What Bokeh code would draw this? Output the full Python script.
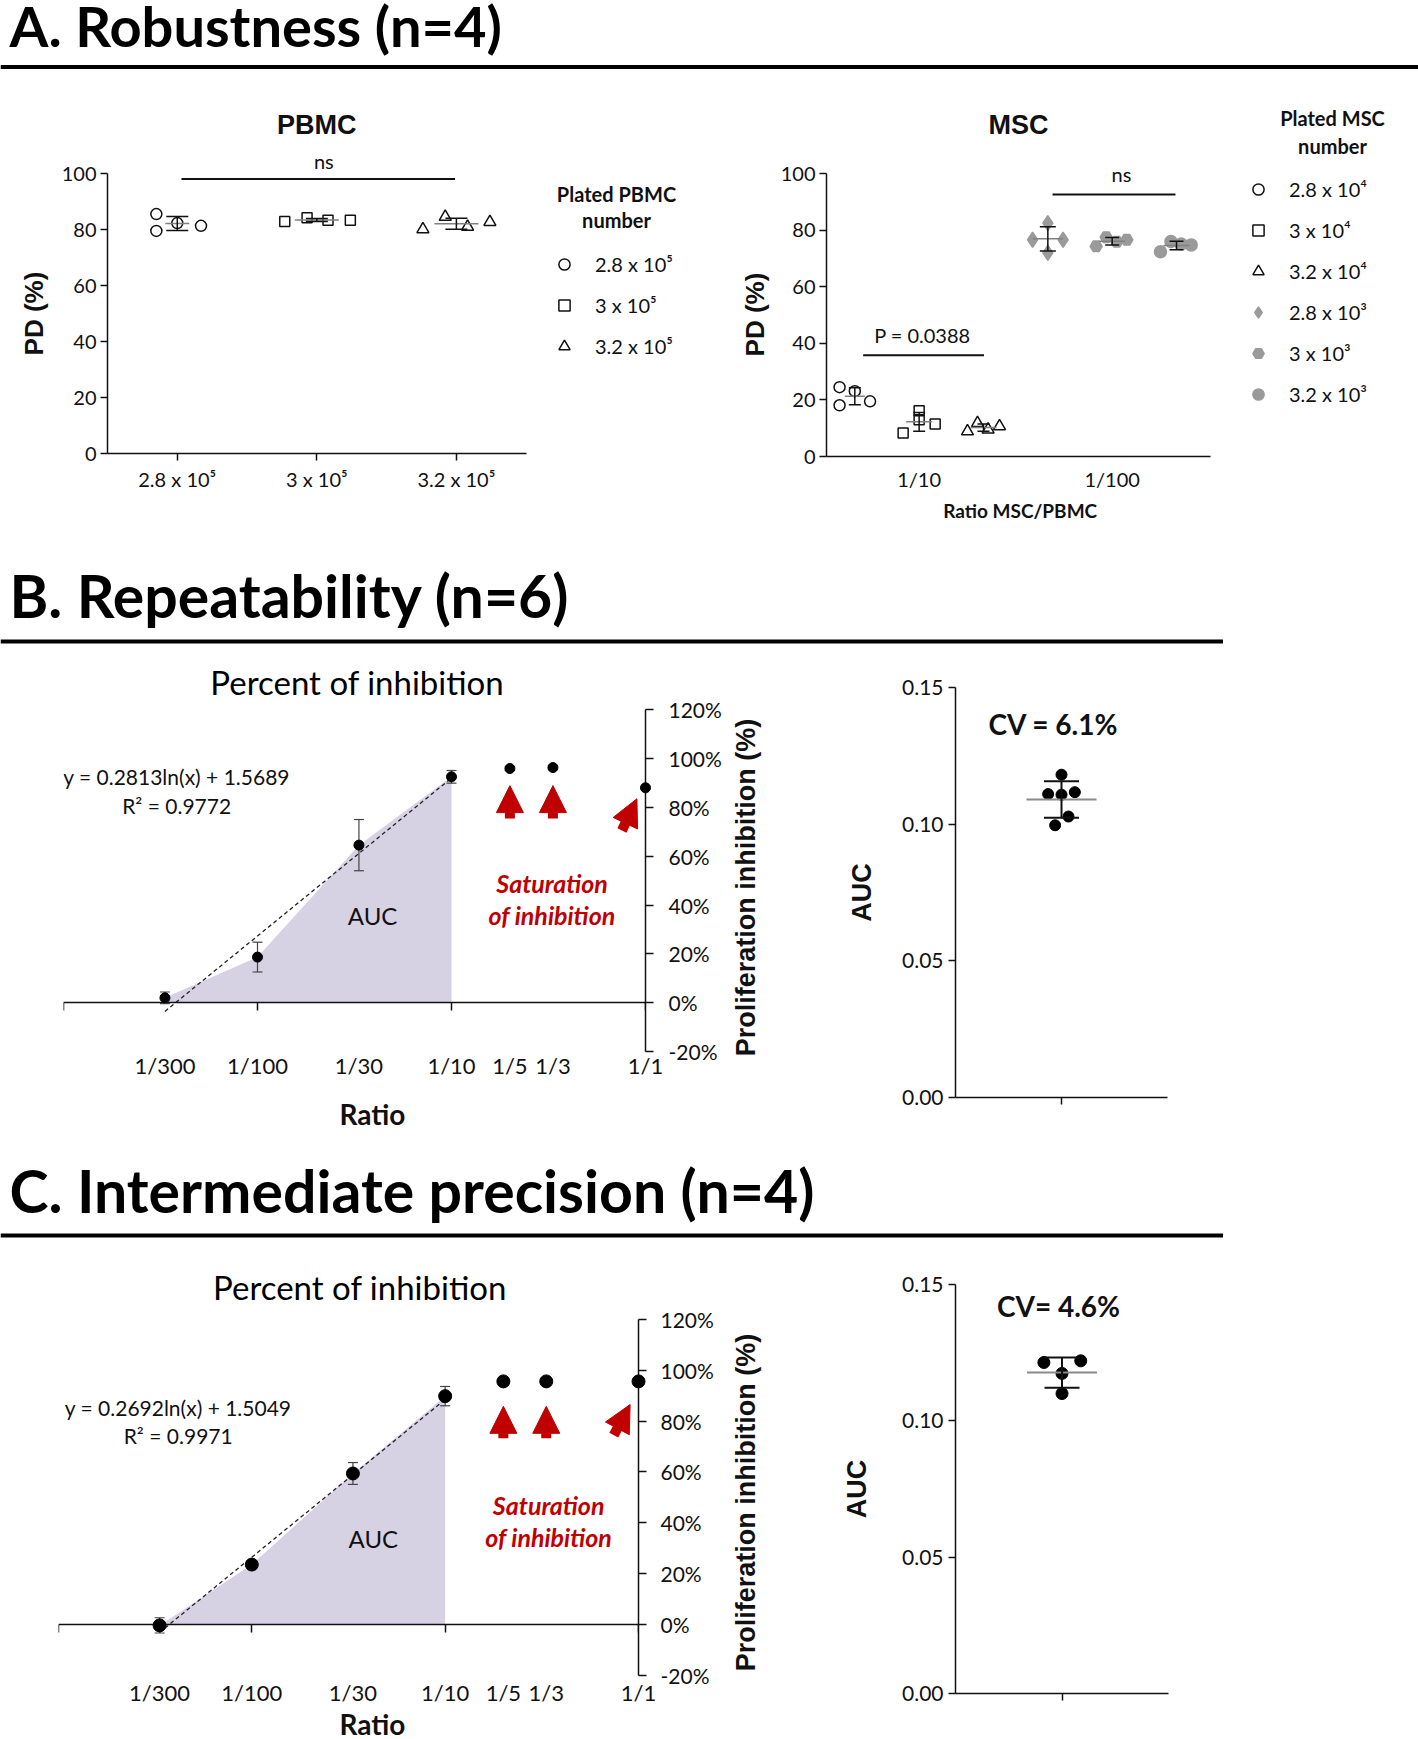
import numpy as np
from bokeh.plotting import figure
from bokeh.layouts import column, row
from bokeh.models import (ColumnDataSource, Whisker, TeeHead, Label, Span, Legend, LegendItem,
                          FixedTicker, LogAxis, PrintfTickFormatter, NumeralTickFormatter,
                          Arrow, NormalHead, Range1d)
from bokeh.embed import file_html
from bokeh.resources import INLINE

# ======================= DATA =======================
# A. Robustness - PBMC (PD %, plated PBMC number)
pbmc_groups = ["2.8 x 10\u2075", "3 x 10\u2075", "3.2 x 10\u2075"]
pbmc_28e5 = [85.5, 79.5, 82.3, 81.3]
pbmc_30e5 = [82.9, 84.2, 83.3, 83.3]
pbmc_32e5 = [80.1, 84.5, 81.0, 82.7]
pbmc_jit_28e5 = [-0.15, -0.15, 0.0, 0.17]
pbmc_jit_30e5 = [-0.23, -0.07, 0.08, 0.24]
pbmc_jit_32e5 = [-0.24, -0.08, 0.08, 0.24]
pbmc_ns_bar = (0.03, 1.99, 98.0)

# A. Robustness - MSC (PD %, ratio MSC/PBMC)
msc_ratios = ["1/10", "1/100"]
msc_legend = ["2.8 x 10\u2074", "3 x 10\u2074", "3.2 x 10\u2074",
              "2.8 x 10\u00b3", "3 x 10\u00b3", "3.2 x 10\u00b3"]
msc_28e4 = [24.5, 18.1, 23.1, 19.5]
msc_30e4 = [8.3, 16.2, 13.0, 11.5]
msc_32e4 = [8.9, 11.8, 9.5, 10.7]
msc_28e3 = [76.6, 82.5, 72.0, 76.6]
msc_30e3 = [74.3, 77.5, 75.9, 76.6]
msc_32e3 = [72.4, 76.0, 75.1, 74.8]
msc_jit_28e4 = [-0.079, -0.079, 0.0, 0.079]
msc_jit_30e4 = [-0.083, 0.0, 0.0, 0.083]
msc_jit_32e4 = [-0.083, -0.031, 0.024, 0.083]
msc_jit_28e3 = [-0.079, 0.0, 0.0, 0.079]
msc_jit_30e3 = [-0.083, -0.031, 0.024, 0.076]
msc_jit_32e3 = [-0.083, -0.029, 0.024, 0.076]
msc_p_bar = (0.71, 1.336, 35.8)
msc_ns_bar = (1.691, 2.328, 92.6)

# B / C shared ratio axis
ratio_labels = ["1/300", "1/100", "1/30", "1/10", "1/5", "1/3", "1/1"]
ratio_values = [1 / 300, 1 / 100, 1 / 30, 1 / 10, 1 / 5, 1 / 3, 1.0]

# B. Repeatability (n=6)
rep_mean = [2.0, 18.7, 64.6, 92.6, 96.0, 96.4, 88.1]
rep_sd = [2.4, 6.1, 10.5, 2.6, 0.8, 0.8, 0.0]
rep_fit = (0.2813, 1.5689)
rep_r2 = 0.9772
rep_auc = [0.1181, 0.1110, 0.1108, 0.1117, 0.1028, 0.0996]
rep_auc_jit = [0.0, -0.063, 0.0, 0.063, 0.033, -0.030]
rep_cv = "CV = 6.1%"
rep_arrows = [(0.2, 75.5, 0.2, 89.0), (1 / 3, 75.5, 1 / 3, 89.0), (0.756, 70.6, 0.903, 83.6)]

# C. Intermediate precision (n=4)
ip_mean = [-0.3, 23.6, 59.4, 89.8, 95.6, 95.6, 95.6]
ip_sd = [3.0, 0.5, 4.3, 3.8, 0.0, 0.0, 0.0]
ip_fit = (0.2692, 1.5049)
ip_r2 = 0.9971
ip_auc = [0.1214, 0.1220, 0.1174, 0.1100]
ip_auc_jit = [-0.085, 0.088, 0.0, 0.0]
ip_cv = "CV= 4.6%"
ip_arrows = [(0.2, 73.2, 0.2, 85.8), (1 / 3, 73.2, 1 / 3, 85.8), (0.745, 74.5, 0.905, 86.5)]

# ======================= STYLE =======================
FONT = "Lato"
BOLD = "Liberation Sans"
INK = "#111111"
RED = "#c00000"
GREY = "#9a9a9a"

LEG_ROW, LEG_GAP = 28, 13


def base_fig(width, height, left, right, top, bottom, x_range, y_range, **kw):
    p = figure(width=width, height=height, x_range=x_range, y_range=y_range,
               output_backend="svg", toolbar_location=None,
               min_border_left=left, min_border_right=right,
               min_border_top=top, min_border_bottom=bottom, **kw)
    p.outline_line_color = None
    p.grid.visible = False
    return p


def block(width, height):
    """Plain text area (no axes)."""
    p = figure(width=width, height=height, x_range=Range1d(0, width), y_range=Range1d(0, height),
               output_backend="svg", toolbar_location=None, x_axis_location=None,
               y_axis_location=None, min_border=0, min_border_left=0, min_border_right=0,
               min_border_top=0, min_border_bottom=0)
    p.outline_line_color = None
    p.grid.visible = False
    return p


def style_axis(ax, font_size="20px", tick_out=7, standoff=5):
    ax.axis_line_color = INK
    ax.axis_line_width = 1.5
    ax.major_tick_line_color = INK
    ax.major_tick_line_width = 1.5
    ax.major_tick_out = tick_out
    ax.major_tick_in = 0
    ax.minor_tick_out = 0
    ax.minor_tick_in = 0
    ax.major_label_text_font = FONT
    ax.major_label_text_font_size = font_size
    ax.major_label_text_color = INK
    ax.major_label_standoff = standoff


def label(p, text, x, y, size, font=FONT, style="normal", color=INK, align="center",
          angle=0, xu="screen", yu="screen"):
    p.add_layout(Label(x=x, y=y, x_units=xu, y_units=yu, text=text, text_font=font,
                       text_font_size=size, text_font_style=style, text_color=color,
                       text_align=align, text_baseline="middle", angle=angle,
                       angle_units="deg"))


def whisker(p, base, lower, upper, cap, color, lw):
    src = ColumnDataSource(dict(base=base, lower=lower, upper=upper))
    p.add_layout(Whisker(source=src, base="base", lower="lower", upper="upper",
                         dimension="height", line_color=color, line_width=lw, level="annotation",
                         upper_head=TeeHead(size=cap, line_color=color, line_width=lw),
                         lower_head=TeeHead(size=cap, line_color=color, line_width=lw)))


def dot_group(p, xc, vals, jit, marker, size, fill, line, mean_w, cap_w):
    xs = [xc + j for j in jit]
    r = p.scatter(xs, vals, marker=marker, size=size, fill_color=fill,
                  line_color=line, line_width=1.5)
    m = float(np.mean(vals))
    s = float(np.std(vals, ddof=1))
    p.scatter([xc], [m], marker="dash", size=mean_w, line_color="#808080", line_width=1.5)
    whisker(p, [xc], [m - s], [m + s], cap_w, INK, 1.5)
    return r


def add_legend(p, items, vx, top_y):
    """top_y: distance of the legend's top edge above the frame bottom."""
    n = len(items)
    h = n * LEG_ROW + (n - 1) * LEG_GAP
    leg = Legend(items=items, location=(vx, top_y - h), orientation="vertical",
                 glyph_width=LEG_ROW, glyph_height=LEG_ROW, label_height=LEG_ROW,
                 label_standoff=17, spacing=LEG_GAP, padding=0, margin=0,
                 border_line_color=None, background_fill_alpha=0, label_text_font=FONT,
                 label_text_font_size="20px", label_text_color=INK)
    p.add_layout(leg)


def header(text, width, height, center_y, line_y, size):
    p = block(width, height)
    label(p, text, 9, center_y, size, style="bold", color="#000", align="left")
    p.add_layout(Span(location=line_y, dimension="width", line_color="#000", line_width=4))
    return p


# ======================= A. PBMC =======================
pbmc = base_fig(672, 471, 47, 0, 21, 92, Range1d(-0.5, 3.964), Range1d(0, 127.86))
style_axis(pbmc.xaxis[0], tick_out=7, standoff=6)
pbmc.xaxis[0].ticker = FixedTicker(ticks=[0, 1, 2])
pbmc.xaxis[0].major_label_overrides = {i: g for i, g in enumerate(pbmc_groups)}
pbmc.xaxis[0].bounds = (-0.5, 2.5)
style_axis(pbmc.yaxis[0], tick_out=7, standoff=4)
pbmc.yaxis[0].ticker = FixedTicker(ticks=[0, 20, 40, 60, 80, 100])
pbmc.yaxis[0].bounds = (0, 100)

r1 = dot_group(pbmc, 0, pbmc_28e5, pbmc_jit_28e5, "circle", 11, None, INK, 24, 22)
r2 = dot_group(pbmc, 1, pbmc_30e5, pbmc_jit_30e5, "square", 10, None, INK, 44, 22)
r3 = dot_group(pbmc, 2, pbmc_32e5, pbmc_jit_32e5, "triangle", 12, None, INK, 44, 22)
pbmc.line([pbmc_ns_bar[0], pbmc_ns_bar[1]], [pbmc_ns_bar[2]] * 2, line_color=INK, line_width=2)
label(pbmc, "ns", 1.05, 104.4, "20px", xu="data", yu="data")
label(pbmc, "PBMC", 1.0, 117.5, "27px", font=BOLD, style="bold", xu="data", yu="data")
label(pbmc, "Plated PBMC", 509, 260, "20px", style="bold")
label(pbmc, "number", 509, 233.5, "20px", style="bold")
add_legend(pbmc, [LegendItem(label=pbmc_groups[0], renderers=[r1]),
                  LegendItem(label=pbmc_groups[1], renderers=[r2]),
                  LegendItem(label=pbmc_groups[2], renderers=[r3])], 443, 203)

# y titles (blocks share the row's frame top/bottom: 95..453)
pd_a = block(58, 471)
label(pd_a, "PD (%)", 33, 140, "26px", font=BOLD, style="bold", angle=90)
pd_b = block(44, 471)
label(pd_b, "PD (%)", 24, 139, "26px", font=BOLD, style="bold", angle=90)

# ======================= A. MSC =======================
msc = base_fig(644, 423, 52, 0, 21, 41, Range1d(0.52, 3.587), Range1d(0, 127.6))
style_axis(msc.xaxis[0], tick_out=0, standoff=10)
msc.xaxis[0].ticker = FixedTicker(ticks=[1, 2])
msc.xaxis[0].major_label_overrides = {1: msc_ratios[0], 2: msc_ratios[1]}
msc.xaxis[0].bounds = (0.52, 2.51)
style_axis(msc.yaxis[0], tick_out=7, standoff=4)
msc.yaxis[0].ticker = FixedTicker(ticks=[0, 20, 40, 60, 80, 100])
msc.yaxis[0].bounds = (0, 100)

g = 1 / 3
m1 = dot_group(msc, 1 - g, msc_28e4, msc_jit_28e4, "circle", 11, None, INK, 20, 12)
m2 = dot_group(msc, 1, msc_30e4, msc_jit_30e4, "square", 10, None, INK, 26, 12)
m3 = dot_group(msc, 1 + g, msc_32e4, msc_jit_32e4, "triangle", 12, None, INK, 26, 12)
m4 = dot_group(msc, 2 - g, msc_28e3, msc_jit_28e3, "diamond", 15, GREY, GREY, 30, 16)
m5 = dot_group(msc, 2, msc_30e3, msc_jit_30e3, "hex", 12, GREY, GREY, 26, 14)
m6 = dot_group(msc, 2 + g, msc_32e3, msc_jit_32e3, "circle", 12, GREY, GREY, 26, 14)
msc.line([msc_p_bar[0], msc_p_bar[1]], [msc_p_bar[2]] * 2, line_color=INK, line_width=2)
msc.line([msc_ns_bar[0], msc_ns_bar[1]], [msc_ns_bar[2]] * 2, line_color=INK, line_width=2)
label(msc, "P = 0.0388", 1.017, 42.8, "20px", xu="data", yu="data")
label(msc, "ns", 2.048, 100.0, "20px", xu="data", yu="data")
label(msc, "MSC", 1.515, 117.3, "27px", font=BOLD, style="bold", xu="data", yu="data")
label(msc, "Plated MSC", 506, 338.5, "20px", style="bold")
label(msc, "number", 506, 311, "20px", style="bold")
add_legend(msc, [LegendItem(label=t, renderers=[r]) for t, r in
                 zip(msc_legend, [m1, m2, m3, m4, m5, m6])], 418, 281.5)

# x title block (shares msc's left border of 52 inside the column)
msc_xlab = block(644, 48)
label(msc_xlab, "Ratio  MSC/PBMC", 196, 35, "19px", style="bold")


# ======================= B / C inhibition panels =======================
def inhibition(width, height, left, right, top, bottom, y_top, means, sds, fit, r2, arrows,
               pt_size, txt):
    p = base_fig(width, height, left, right, top, bottom, Range1d(0.001, 1.0),
                 Range1d(-20, y_top), x_axis_type="log", y_axis_location="right")
    ya = p.yaxis[0]
    style_axis(ya, font_size="21px", tick_out=8, standoff=txt["ystd"])
    ya.ticker = FixedTicker(ticks=[-20, 0, 20, 40, 60, 80, 100, 120])
    ya.formatter = PrintfTickFormatter(format="%d%%")
    ya.bounds = (-20, 120)
    xa = p.xaxis[0]
    style_axis(xa, font_size="22px", tick_out=0, standoff=txt["xstd"])
    xa.axis_line_color = None
    xa.major_tick_line_color = None
    xa.ticker = FixedTicker(ticks=ratio_values)
    xa.major_label_overrides = {v: l for v, l in zip(ratio_values, ratio_labels)}
    zero = LogAxis(fixed_location=0, ticker=FixedTicker(ticks=[0.001, 0.01, 0.1, 1.0]))
    style_axis(zero, font_size="1px", tick_out=0, standoff=0)
    zero.major_tick_in = 8
    zero.major_label_text_color = None
    zero.major_label_overrides = {t: "" for t in [0.001, 0.01, 0.1, 1.0]}
    p.add_layout(zero, "above")

    # AUC area under the measured curve (1/300 .. 1/10)
    n = 4
    p.varea(x=ratio_values[:n], y1=[0] * n, y2=means[:n], fill_color="#9c8fb8", fill_alpha=0.4)
    # logarithmic fit shown on the chart
    a, b = fit
    fx = [ratio_values[0], ratio_values[3]]
    p.line(fx, [100 * (a * np.log(x) + b) for x in fx], line_color="#222", line_width=1.3,
           line_dash="4 3")
    whisker(p, ratio_values, [m - s for m, s in zip(means, sds)],
            [m + s for m, s in zip(means, sds)], 10, "#444", 1.2)
    p.scatter(ratio_values, means, size=pt_size, color="#000", level="overlay")
    for (x0, y0, x1, y1) in arrows:
        p.add_layout(Arrow(end=NormalHead(size=27, fill_color=RED, line_color=RED, line_width=1),
                           x_start=x0, y_start=y0, x_end=x1, y_end=y1,
                           line_color=RED, line_width=10))
    label(p, "y = %.4fln(x) + %.4f" % (a, b), txt["eq"][0], txt["eq"][1], "21px",
          xu="data", yu="data")
    label(p, "R\u00b2 = %.4f" % r2, txt["eq"][0], txt["r2"], "21px", xu="data", yu="data")
    label(p, "AUC", txt["auc"][0], txt["auc"][1], "24px", xu="data", yu="data")
    label(p, "Saturation", txt["sat"][0], txt["sat"][1], "25px", style="bold italic", color=RED,
          xu="data", yu="data")
    label(p, "of inhibition", txt["sat"][0], txt["sat"][2], "25px", style="bold italic",
          color=RED, xu="data", yu="data")
    label(p, "Percent of inhibition", txt["title"][0], txt["title"][1], "33px", color="#000")
    return p


def auc_panel(width, height, left, right, top, bottom, vals, jit, cv, pt_size, cv_pos, lab_std):
    p = base_fig(width, height, left, right, top, bottom, Range1d(0, 1), Range1d(0, 0.15))
    ya = p.yaxis[0]
    style_axis(ya, font_size="21px", tick_out=7, standoff=5)
    ya.ticker = FixedTicker(ticks=[0, 0.05, 0.10, 0.15])
    ya.formatter = NumeralTickFormatter(format="0.00")
    ya.axis_label = "AUC"
    ya.axis_label_text_font = BOLD
    ya.axis_label_text_font_style = "bold"
    ya.axis_label_text_font_size = "27px"
    ya.axis_label_text_color = INK
    ya.axis_label_standoff = lab_std
    style_axis(p.xaxis[0], tick_out=7, standoff=2)
    p.xaxis[0].ticker = FixedTicker(ticks=[0.5])
    p.xaxis[0].major_label_overrides = {0.5: ""}
    m = float(np.mean(vals))
    s = float(np.std(vals, ddof=1))
    p.scatter([0.5 + j for j in jit], vals, size=pt_size, color="#000")
    p.scatter([0.5], [m], marker="dash", size=70, line_color="#8a8a8a", line_width=2)
    whisker(p, [0.5], [m - s], [m + s], 35, INK, 2)
    label(p, cv, cv_pos[0], cv_pos[1], "28px", style="bold")
    return p


rep_txt = dict(eq=(0.00383, 92.8), r2=80.9, auc=(0.0392, 35.9), sat=(0.330, 49.1, 35.9),
               title=(293.8, 370.0), xstd=0, ystd=15)
ip_txt = dict(eq=(0.00416, 85.4), r2=74.5, auc=(0.0425, 34.0), sat=(0.343, 47.0, 34.4),
              title=(301.5, 389.0), xstd=3, ystd=14)

# row B
rep = inhibition(725, 446, 63, 80, 4, 40, 144.8, rep_mean, rep_sd, rep_fit, rep_r2, rep_arrows,
                 10, rep_txt)
rep_xlab = block(725, 44)          # shares rep's left border (63) inside the column
label(rep_xlab, "Ratio", 309, 22, "28px", style="bold")
rep_ylab = block(45, 490)          # shares the AUC frame (687..1097) inside the row
label(rep_ylab, "Proliferation inhibition (%)", 20, 210, "27px", font=BOLD, style="bold",
      angle=90)
rep_auc_p = auc_panel(460, 490, 185, 63, 42, 38, rep_auc, rep_auc_jit, rep_cv, 11,
                      (98, 374), 22)

# row C
ip = inhibition(725, 468, 58, 87, 4, 31, 149.4, ip_mean, ip_sd, ip_fit, ip_r2, ip_arrows,
                13, ip_txt)
ip_xlab = block(725, 31)           # shares ip's left border (58)
label(ip_xlab, "Ratio", 314, 16, "28px", style="bold")
ip_ylab = block(45, 499)           # shares the AUC frame (1284..1693)
label(ip_ylab, "Proliferation inhibition (%)", 20, 191, "27px", font=BOLD, style="bold",
      angle=90)
ip_auc_p = auc_panel(460, 499, 185, 62, 44, 46, ip_auc, ip_auc_jit, ip_cv, 12,
                     (103, 388), 27)

# ======================= headers & layout =======================
hA = header("A. Robustness (n=4)", 1418, 74, 49, 7.5, "56px")
hB = header("B. Repeatability (n=6)", 1223, 100, 50, 4, "59px")
hC = header("C. Intermediate precision (n=4)", 1223, 105, 50, 5, "59px")

layout = column(
    hA,
    row(pd_a, pbmc, pd_b, column(msc, msc_xlab)),
    hB,
    row(column(rep, rep_xlab), rep_ylab, rep_auc_p),
    hC,
    row(column(ip, ip_xlab), ip_ylab, ip_auc_p),
)

with open("out.html", "w") as f:
    f.write(file_html(layout, INLINE))
